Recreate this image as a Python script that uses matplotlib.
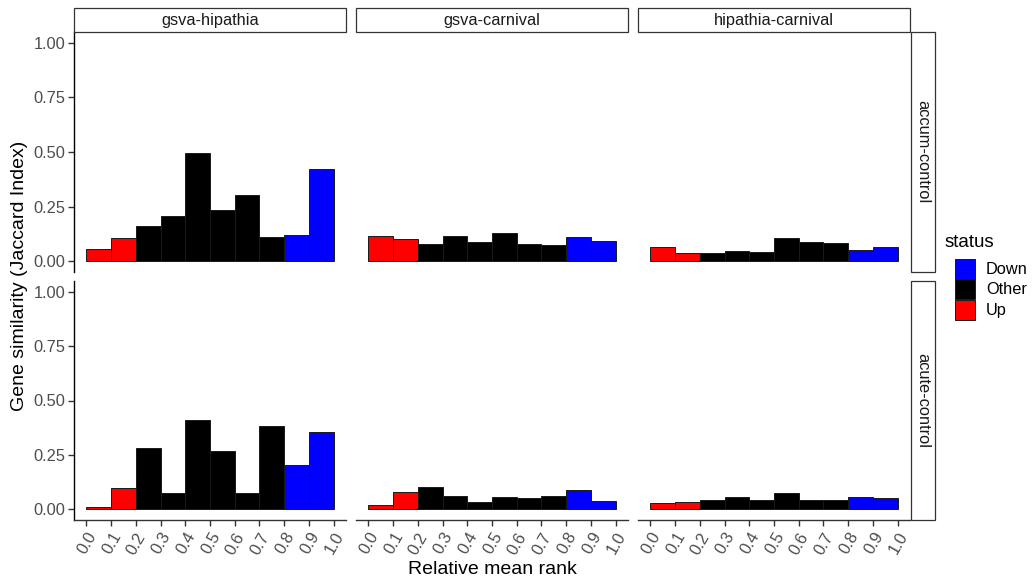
import numpy as np
import matplotlib.pyplot as plt
from matplotlib.patches import Rectangle

plt.rcParams['font.family'] = ['Liberation Sans', 'DejaVu Sans']

# --- data ---
bins = [0.0, 0.1, 0.2, 0.3, 0.4, 0.5, 0.6, 0.7, 0.8, 0.9]
status = ['Up', 'Up', 'Other', 'Other', 'Other', 'Other', 'Other', 'Other', 'Down', 'Down']
comparisons = ['gsva-hipathia', 'gsva-carnival', 'hipathia-carnival']
contrasts = ['accum-control', 'acute-control']

accum_gsva_hipathia = [0.057, 0.107, 0.161, 0.206, 0.494, 0.235, 0.302, 0.110, 0.121, 0.422]
accum_gsva_carnival = [0.113, 0.101, 0.080, 0.117, 0.087, 0.127, 0.078, 0.074, 0.110, 0.094]
accum_hipathia_carnival = [0.063, 0.035, 0.037, 0.048, 0.040, 0.106, 0.089, 0.083, 0.051, 0.066]
acute_gsva_hipathia = [0.011, 0.098, 0.281, 0.072, 0.412, 0.269, 0.072, 0.381, 0.204, 0.355]
acute_gsva_carnival = [0.017, 0.081, 0.101, 0.061, 0.035, 0.057, 0.051, 0.060, 0.089, 0.037]
acute_hipathia_carnival = [0.029, 0.034, 0.041, 0.054, 0.041, 0.074, 0.043, 0.041, 0.054, 0.049]

panels = [[accum_gsva_hipathia, accum_gsva_carnival, accum_hipathia_carnival],
          [acute_gsva_hipathia, acute_gsva_carnival, acute_hipathia_carnival]]

status_colors = {'Down': 'blue', 'Other': 'black', 'Up': 'red'}
legend_order = ['Down', 'Other', 'Up']

W, H = 1032, 580
fig = plt.figure(figsize=(W / 100, H / 100), dpi=100)


def fbox(x0, y0, x1, y1):
    # pixel box (top-left origin) -> figure fraction
    return [x0 / W, 1 - y1 / H, (x1 - x0) / W, (y1 - y0) / H]


col_x = [(74, 346), (356, 628), (638, 910)]
row_y = [(32, 272), (281, 520)]
grey30 = '#4d4d4d'
ticks = np.round(np.arange(0, 1.01, 0.1), 1)

for r, (y0, y1) in enumerate(row_y):
    for c, (x0, x1) in enumerate(col_x):
        ax = fig.add_axes(fbox(x0, y0, x1, y1))
        vals = panels[r][c]
        cols = [status_colors[s] for s in status]
        ax.bar(bins, vals, width=0.1, align='edge', color=cols,
               edgecolor='#1a1a1a', linewidth=0.7)
        ax.set_xlim(-0.05, 1.05)
        ax.set_ylim(-0.05, 1.05)
        for s in ['top', 'right']:
            ax.spines[s].set_visible(False)
        ax.spines['left'].set_visible(c == 0)
        ax.spines['bottom'].set_visible(r == 1)
        ax.spines['left'].set_linewidth(1.0)
        ax.spines['bottom'].set_linewidth(1.0)
        ax.spines['bottom'].set_color('#333333')
        ax.set_yticks([0, 0.25, 0.5, 0.75, 1.0])
        ax.set_xticks(ticks)
        if c == 0:
            ax.set_yticklabels(['0.00', '0.25', '0.50', '0.75', '1.00'])
            ax.tick_params(axis='y', length=4, width=1, color='#333333',
                           labelsize=11.8, labelcolor=grey30, pad=2)
        else:
            ax.tick_params(axis='y', left=False, labelleft=False)
        if r == 1:
            ax.set_xticklabels([f'{t:.1f}' for t in ticks], rotation=60,
                               ha='right', va='top', rotation_mode='anchor')
            ax.tick_params(axis='x', length=4, width=1, color='#333333',
                           labelsize=11.8, labelcolor=grey30, pad=3)
        else:
            ax.tick_params(axis='x', bottom=False, labelbottom=False)
        ax.patch.set_alpha(0)

# column strips
for c, (x0, x1) in enumerate(col_x):
    fig.patches.append(Rectangle((x0 / W, 1 - 32 / H), (x1 - x0) / W, 24 / H,
                                 transform=fig.transFigure, facecolor='white',
                                 edgecolor='#333333', linewidth=0.9))
    fig.text((x0 + x1) / 2 / W, 1 - 20 / H, comparisons[c], ha='center',
             va='center', fontsize=11.8, color='#1a1a1a')

# row strips
for r, (y0, y1) in enumerate(row_y):
    fig.patches.append(Rectangle((911 / W, 1 - y1 / H), 24 / W, (y1 - y0) / H,
                                 transform=fig.transFigure, facecolor='white',
                                 edgecolor='#333333', linewidth=0.9))
    fig.text(923 / W, 1 - (y0 + y1) / 2 / H, contrasts[r], ha='center',
             va='center', rotation=-90, fontsize=11.8, color='#1a1a1a')

# axis titles
fig.text(492 / W, 1 - 570 / H, 'Relative mean rank', ha='center', va='center',
         fontsize=14)
fig.text(20 / W, 1 - 276 / H, 'Gene similarity (Jaccard Index)', ha='center',
         va='center', rotation=90, fontsize=14)

# legend
fig.text(945 / W, 1 - 242 / H, 'status', ha='left', va='center', fontsize=13.5)
for i, s in enumerate(legend_order):
    ky = 259 + i * 20.5
    fig.patches.append(Rectangle((955 / W, 1 - (ky + 20) / H), 20 / W, 20 / H,
                                 transform=fig.transFigure,
                                 facecolor=status_colors[s], edgecolor='#1a1a1a',
                                 linewidth=0.7))
    fig.text(986 / W, 1 - (ky + 10) / H, s, ha='left', va='center',
             fontsize=11.8, color='black')

fig.savefig('out.png', dpi=100)
